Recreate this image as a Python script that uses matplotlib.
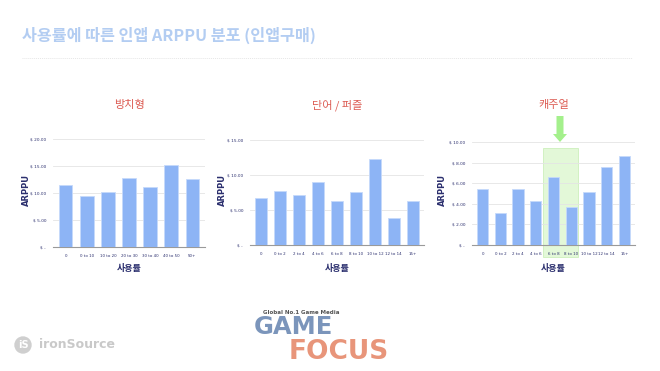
import matplotlib.pyplot as plt
from matplotlib.patches import Rectangle, Ellipse, FancyArrow

plt.rcParams['font.family'] = ['Noto Sans CJK KR', 'DejaVu Sans']

# data
idle_cats = ['0', '0 to 10', '10 to 20', '20 to 30', '30 to 40', '40 to 50', '50+']
idle_vals = [11.4, 9.4, 10.2, 12.8, 11.2, 15.2, 12.6]

word_cats = ['0', '0 to 2', '2 to 4', '4 to 6', '6 to 8', '8 to 10', '10 to 12', '12 to 14', '15+']
word_vals = [6.7, 7.7, 7.2, 9.1, 6.4, 7.6, 12.3, 3.9, 6.4]

casual_cats = ['0', '0 to 2', '2 to 4', '4 to 6', '6 to 8', '8 to 10', '10 to 12', '12 to 14', '15+']
casual_vals = [5.4, 3.1, 5.4, 4.3, 6.6, 3.7, 5.1, 7.6, 8.7]

idle_ticks = [0, 5, 10, 15, 20]
idle_ticklabels = ['$ -', '$ 5.00', '$ 10.00', '$ 15.00', '$ 20.00']
word_ticks = [0, 5, 10, 15]
word_ticklabels = ['$ -', '$ 5.00', '$ 10.00', '$ 15.00']
casual_ticks = [0, 2, 4, 6, 8, 10]
casual_ticklabels = ['$ -', '$ 2.00', '$ 4.00', '$ 6.00', '$ 8.00', '$ 10.00']

BAR = '#8db4f5'
NAVY = '#2b2f6e'
RED = '#dc5b52'

fig = plt.figure(figsize=(6.6, 3.71), dpi=100)
W, H = 660, 371


def fx(px):
    return px / W


def fy(py):
    return 1 - py / H


panels = [
    (idle_cats, idle_vals, idle_ticks, idle_ticklabels, '방치형', [53, 139, 205, 247], 26),
    (word_cats, word_vals, word_ticks, word_ticklabels, '단어 / 퍼즐', [250, 140.3, 424, 245.3], 222),
    (casual_cats, casual_vals, casual_ticks, casual_ticklabels, '캐주얼', [472, 142.3, 635, 244.7], 442),
]

for cats, vals, ticks, tlabels, title, box, ylab_x in panels:
    x0, y0, x1, y1 = box
    ax = fig.add_axes([fx(x0), fy(y1), fx(x1 - x0), (y1 - y0) / H])
    ax.patch.set_visible(False)
    ax.bar(range(len(cats)), vals, width=0.64, color=BAR, edgecolor='#c6d9fb',
           linewidth=0.6, zorder=3)
    ax.set_ylim(0, ticks[-1])
    ax.set_xlim(-0.6, len(cats) - 0.4)
    ax.set_yticks(ticks)
    ax.set_yticklabels(tlabels, fontsize=3.1, color=NAVY, family='DejaVu Sans')
    ax.set_xticks(range(len(cats)))
    ax.set_xticklabels(cats, fontsize=2.9, color=NAVY, family='DejaVu Sans')
    ax.tick_params(length=0, pad=5)
    ax.grid(axis='y', color='#e4e4e4', linewidth=0.6, zorder=0)
    for s in ['top', 'right', 'left']:
        ax.spines[s].set_visible(False)
    ax.spines['bottom'].set_color('#9a9a9a')
    ax.spines['bottom'].set_linewidth(0.8)
    # titles and axis labels
    cx = (x0 + x1) / 2
    fig.text(fx(cx), fy(105), title, color=RED, fontsize=8, ha='center', va='center')
    fig.text(fx(cx), fy(268), '사용률', color=NAVY, fontsize=6.5, fontweight='bold',
             ha='center', va='center')
    fig.text(fx(ylab_x), fy(190), 'ARPPU', color=NAVY, fontsize=6, fontweight='bold',
             rotation=90, ha='center', va='center', family='DejaVu Sans')

# highlight on the casual panel (6 to 8 and 8 to 10), behind the bars
fig.patches.append(Rectangle((fx(543), fy(257)), fx(35), (257 - 148) / H,
                             transform=fig.transFigure, facecolor='#e3f8d8',
                             edgecolor='#cdf0bc', linewidth=0.6, zorder=-1))
fig.patches.append(FancyArrow(fx(560), fy(116), 0, -(142 - 116) / H, width=fx(7),
                              head_width=fx(14), head_length=8 / H,
                              length_includes_head=True, transform=fig.transFigure,
                              color='#a4f08c', linewidth=0))

# header
fig.text(fx(22), fy(35), '사용률에 따른 인앱 ARPPU 분포 (인앱구매)', color='#b3cdf2',
         fontsize=11.7, fontweight='bold', ha='left', va='center')
fig.add_artist(plt.Line2D([fx(22), fx(632)], [fy(58), fy(58)], color='#e6e6e6',
                          linewidth=0.7, linestyle=(0, (1, 1))))

# logos
fig.patches.append(Ellipse((fx(23), fy(345)), fx(16), 16 / H, transform=fig.transFigure,
                           color='#cfcfcf', zorder=1))
fig.text(fx(23), fy(345), 'iS', color='white', fontsize=7, fontweight='bold',
         ha='center', va='center', family='DejaVu Sans')
fig.text(fx(39), fy(345), 'ironSource', color='#c9c9c9', fontsize=9, fontweight='bold',
         ha='left', va='center', family='DejaVu Sans')

fig.text(fx(263), fy(312), 'Global No.1 Game Media', color='#555555', fontsize=4,
         fontweight='bold', ha='left', va='center', family='DejaVu Sans')
fig.text(fx(254), fy(327), 'GAME', color='#7b95bb', fontsize=17.5, fontweight='bold',
         ha='left', va='center', family='DejaVu Sans')
fig.text(fx(289), fy(352), 'FOCUS', color='#e8957a', fontsize=19, fontweight='bold',
         ha='left', va='center', family='DejaVu Sans')

fig.savefig('out.png', dpi=100, facecolor='white')
